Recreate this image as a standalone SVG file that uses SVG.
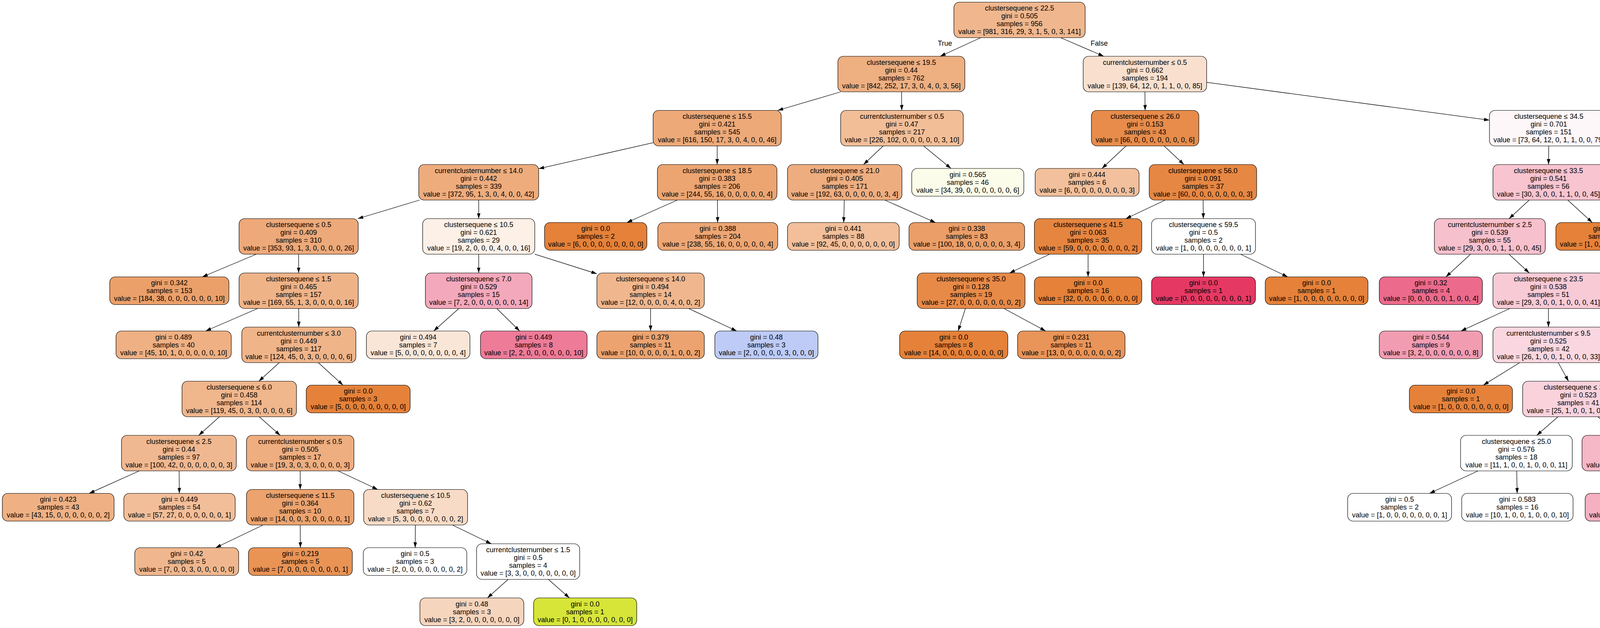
<svg xmlns="http://www.w3.org/2000/svg" width="7350" height="1607" viewBox="0 0 7350 1607">
<style>
.b{stroke:#000;stroke-width:1.2}
text{font-family:"Liberation Sans",Helvetica,Arial,sans-serif;font-size:18px;text-anchor:middle;fill:#000}
.e line{stroke:#000;stroke-width:1.3;fill:none;marker-end:url(#a)}
</style>
<defs><marker id="a" markerWidth="14" markerHeight="10" refX="14" refY="5" orient="auto" markerUnits="userSpaceOnUse"><path d="M0,0.5 L14,5 L0,9.5 z" fill="#000"/></marker></defs>
<rect width="7350" height="1607" fill="#fff"/>
<g id="edges" class="e">
<line x1="2510.6" y1="96.5" x2="2406.9" y2="144"/>
<line x1="2715.4" y1="96.5" x2="2825.6" y2="144"/>
<line x1="2152.6" y1="235" x2="1990.9" y2="282.5"/>
<line x1="2308" y1="235" x2="2308.5" y2="282.5"/>
<line x1="2931" y1="235" x2="2931.5" y2="282.5"/>
<line x1="3089" y1="210.7" x2="3813" y2="307.6"/>
<line x1="1672" y1="365.2" x2="1379" y2="431.7"/>
<line x1="1836" y1="373.5" x2="1836" y2="421"/>
<line x1="2260.9" y1="373.5" x2="2210.6" y2="421"/>
<line x1="2364.4" y1="373.5" x2="2434.5" y2="431"/>
<line x1="2882.7" y1="373.5" x2="2821.1" y2="431"/>
<line x1="2980.1" y1="373.5" x2="3030.9" y2="421"/>
<line x1="3964.7" y1="373.5" x2="3964.3" y2="421"/>
<line x1="4117" y1="355.9" x2="4569" y2="438.6"/>
<line x1="1074.1" y1="512" x2="915.9" y2="559.5"/>
<line x1="1225.5" y1="512" x2="1225.5" y2="559.5"/>
<line x1="1733.8" y1="512" x2="1604.7" y2="569.5"/>
<line x1="1836.5" y1="512" x2="1837.1" y2="569.5"/>
<line x1="2161.4" y1="512" x2="2159.9" y2="569.5"/>
<line x1="2265.2" y1="512" x2="2394.9" y2="569.5"/>
<line x1="2982.9" y1="512" x2="2882.1" y2="559.5"/>
<line x1="3080" y1="512" x2="3080.5" y2="559.5"/>
<line x1="3914.7" y1="512" x2="3863.3" y2="559.5"/>
<line x1="4013.6" y1="512" x2="4076.3" y2="569.5"/>
<line x1="4721" y1="512" x2="4721" y2="559.5"/>
<line x1="4873" y1="480.9" x2="6045" y2="591.5"/>
<line x1="656.2" y1="650.5" x2="518" y2="708.5"/>
<line x1="764.5" y1="650.5" x2="764.5" y2="698.5"/>
<line x1="1225.5" y1="650.5" x2="1225.5" y2="698.5"/>
<line x1="1369" y1="650.3" x2="1528" y2="700.6"/>
<line x1="2687.1" y1="650.5" x2="2584.4" y2="698.5"/>
<line x1="2785.5" y1="650.5" x2="2785.5" y2="708.5"/>
<line x1="3081" y1="650.5" x2="3081" y2="708.5"/>
<line x1="3175.8" y1="650.5" x2="3296.6" y2="708.5"/>
<line x1="3764.6" y1="650.5" x2="3701.6" y2="708.5"/>
<line x1="3863.1" y1="650.5" x2="3914.9" y2="698.5"/>
<line x1="4669.6" y1="650.5" x2="4615.4" y2="698.5"/>
<line x1="4771.6" y1="650.5" x2="4824.9" y2="698.5"/>
<line x1="6187.5" y1="650.5" x2="6187.5" y2="698.5"/>
<line x1="6330" y1="649.8" x2="6497" y2="702.2"/>
<line x1="659.4" y1="789.5" x2="526.5" y2="847"/>
<line x1="764.6" y1="789.5" x2="764.9" y2="837"/>
<line x1="1174.6" y1="789.5" x2="1110.2" y2="847"/>
<line x1="1271.8" y1="789.5" x2="1330.4" y2="847"/>
<line x1="1665.5" y1="789.5" x2="1665.5" y2="847"/>
<line x1="1762.9" y1="789.5" x2="1886" y2="847"/>
<line x1="2471.4" y1="789.5" x2="2452.9" y2="847"/>
<line x1="2570.3" y1="789.5" x2="2676.8" y2="847"/>
<line x1="3865.1" y1="789.5" x2="3740.1" y2="847"/>
<line x1="3964" y1="789.5" x2="3964" y2="837"/>
<line x1="4467.3" y1="789.5" x2="4345" y2="847"/>
<line x1="4565.8" y1="789.5" x2="4568.1" y2="847"/>
<line x1="4873.7" y1="789.5" x2="4871.8" y2="837"/>
<line x1="4972.6" y1="789.5" x2="5073.9" y2="837"/>
<line x1="6141.8" y1="789.5" x2="6094.2" y2="837"/>
<line x1="6237.3" y1="789.5" x2="6289.2" y2="837"/>
<line x1="6630" y1="789.5" x2="6630" y2="847"/>
<line x1="6725.4" y1="789.5" x2="6825.1" y2="837"/>
<line x1="714.9" y1="928" x2="662.6" y2="975.5"/>
<line x1="814.9" y1="928" x2="878" y2="985.5"/>
<line x1="3890.4" y1="928" x2="3797.4" y2="985.5"/>
<line x1="3989.1" y1="928" x2="4015.4" y2="975.5"/>
<line x1="4772.9" y1="928" x2="4650.2" y2="985.5"/>
<line x1="4870" y1="928" x2="4870" y2="975.5"/>
<line x1="5169.4" y1="928" x2="5167.3" y2="985.5"/>
<line x1="5266.4" y1="928" x2="5366.1" y2="975.5"/>
<line x1="5953.1" y1="928" x2="5832.5" y2="985.5"/>
<line x1="6048.5" y1="928" x2="6048.5" y2="985.5"/>
<line x1="6339" y1="928" x2="6339" y2="985.5"/>
<line x1="6434.6" y1="928" x2="6555.4" y2="985.5"/>
<line x1="6920.5" y1="928" x2="6920.5" y2="985.5"/>
<line x1="7015.6" y1="928" x2="7135.8" y2="985.5"/>
<line x1="561.7" y1="1066.5" x2="508.8" y2="1114"/>
<line x1="663.7" y1="1066.5" x2="717.3" y2="1114"/>
<line x1="3988.4" y1="1066.5" x2="3934.1" y2="1114"/>
<line x1="4090.6" y1="1066.5" x2="4142.9" y2="1114"/>
<line x1="4796.6" y1="1066.5" x2="4703.8" y2="1124"/>
<line x1="4894" y1="1066.5" x2="4919" y2="1114"/>
<line x1="5437.2" y1="1066.5" x2="5406.5" y2="1124"/>
<line x1="5534.3" y1="1066.5" x2="5626.2" y2="1124"/>
<line x1="356.5" y1="1205" x2="228.2" y2="1262.5"/>
<line x1="458.5" y1="1205" x2="459.1" y2="1262.5"/>
<line x1="768.5" y1="1205" x2="768.5" y2="1252.5"/>
<line x1="865.6" y1="1205" x2="966.9" y2="1252.5"/>
<line x1="3783.8" y1="1205" x2="3659.6" y2="1262.5"/>
<line x1="3882.8" y1="1205" x2="3883.9" y2="1262.5"/>
<line x1="4192" y1="1205" x2="4190.8" y2="1262.5"/>
<line x1="4290.9" y1="1205" x2="4414.6" y2="1262.5"/>
<line x1="4895.2" y1="1205" x2="4845.3" y2="1252.5"/>
<line x1="4990.5" y1="1205" x2="5050.5" y2="1262.5"/>
<line x1="673.4" y1="1343.5" x2="552.2" y2="1401.5"/>
<line x1="768.5" y1="1343.5" x2="769" y2="1401.5"/>
<line x1="1063.5" y1="1343.5" x2="1062.9" y2="1401.5"/>
<line x1="1158.3" y1="1343.5" x2="1257.7" y2="1391.5"/>
<line x1="4750" y1="1343.5" x2="4689.5" y2="1401.5"/>
<line x1="4845.1" y1="1343.5" x2="4905.8" y2="1401.5"/>
<line x1="1301" y1="1482.5" x2="1247.8" y2="1530"/>
<line x1="1403.7" y1="1482.5" x2="1457.7" y2="1530"/>
<text x="2419" y="117">True</text>
<text x="2814" y="117">False</text>
</g>
<g id="n0"><rect class="b" x="2442" y="5.5" width="336" height="91" rx="14" fill="#f0b78e"/><text x="2610" y="27">clustersequene ≤ 22.5<tspan x="2610" dy="20">gini = 0.505</tspan><tspan x="2610" dy="20">samples = 956</tspan><tspan x="2610" dy="20">value = [981, 316, 29, 3, 1, 5, 0, 3, 141]</tspan></text></g>
<g id="n1"><rect class="b" x="2145" y="144" width="325" height="91" rx="14" fill="#eeaf81"/><text x="2307.5" y="165.5">clustersequene ≤ 19.5<tspan x="2307.5" dy="20">gini = 0.44</tspan><tspan x="2307.5" dy="20">samples = 762</tspan><tspan x="2307.5" dy="20">value = [842, 252, 17, 3, 0, 4, 0, 3, 56]</tspan></text></g>
<g id="n2"><rect class="b" x="2773" y="144" width="316" height="91" rx="14" fill="#f9e0ce"/><text x="2931" y="165.5">currentclusternumber ≤ 0.5<tspan x="2931" dy="20">gini = 0.662</tspan><tspan x="2931" dy="20">samples = 194</tspan><tspan x="2931" dy="20">value = [139, 64, 12, 0, 1, 1, 0, 0, 85]</tspan></text></g>
<g id="n3"><rect class="b" x="1672" y="282.5" width="328" height="91" rx="14" fill="#eda978"/><text x="1836" y="304">clustersequene ≤ 15.5<tspan x="1836" dy="20">gini = 0.421</tspan><tspan x="1836" dy="20">samples = 545</tspan><tspan x="1836" dy="20">value = [616, 150, 17, 3, 0, 4, 0, 0, 46]</tspan></text></g>
<g id="n4"><rect class="b" x="2152" y="282.5" width="314" height="91" rx="14" fill="#f2be98"/><text x="2309" y="304">currentclusternumber ≤ 0.5<tspan x="2309" dy="20">gini = 0.47</tspan><tspan x="2309" dy="20">samples = 217</tspan><tspan x="2309" dy="20">value = [226, 102, 0, 0, 0, 0, 0, 3, 10]</tspan></text></g>
<g id="n5"><rect class="b" x="2794" y="282.5" width="275" height="91" rx="14" fill="#e78c4b"/><text x="2931.5" y="304">clustersequene ≤ 26.0<tspan x="2931.5" dy="20">gini = 0.153</tspan><tspan x="2931.5" dy="20">samples = 43</tspan><tspan x="2931.5" dy="20">value = [66, 0, 0, 0, 0, 0, 0, 0, 6]</tspan></text></g>
<g id="n6"><rect class="b" x="3813" y="282.5" width="304" height="91" rx="14" fill="#fef7f9"/><text x="3965" y="304">clustersequene ≤ 34.5<tspan x="3965" dy="20">gini = 0.701</tspan><tspan x="3965" dy="20">samples = 151</tspan><tspan x="3965" dy="20">value = [73, 64, 12, 0, 1, 1, 0, 0, 79]</tspan></text></g>
<g id="n7"><rect class="b" x="1072" y="421" width="307" height="91" rx="14" fill="#eeac7d"/><text x="1225.5" y="442.5">currentclusternumber ≤ 14.0<tspan x="1225.5" dy="20">gini = 0.442</tspan><tspan x="1225.5" dy="20">samples = 339</tspan><tspan x="1225.5" dy="20">value = [372, 95, 1, 3, 0, 4, 0, 0, 42]</tspan></text></g>
<g id="n8"><rect class="b" x="1683" y="421" width="306" height="91" rx="14" fill="#eca571"/><text x="1836" y="442.5">clustersequene ≤ 18.5<tspan x="1836" dy="20">gini = 0.383</tspan><tspan x="1836" dy="20">samples = 206</tspan><tspan x="1836" dy="20">value = [244, 55, 16, 0, 0, 0, 0, 0, 4]</tspan></text></g>
<g id="n9"><rect class="b" x="2016" y="421" width="293" height="91" rx="14" fill="#eead7f"/><text x="2162.5" y="442.5">clustersequene ≤ 21.0<tspan x="2162.5" dy="20">gini = 0.405</tspan><tspan x="2162.5" dy="20">samples = 171</tspan><tspan x="2162.5" dy="20">value = [192, 63, 0, 0, 0, 0, 0, 3, 4]</tspan></text></g>
<g id="n10"><rect class="b" x="2334" y="431" width="287" height="71" rx="14" fill="#fbfce9"/><text x="2477.5" y="452.5">gini = 0.565<tspan x="2477.5" dy="20">samples = 46</tspan><tspan x="2477.5" dy="20">value = [34, 39, 0, 0, 0, 0, 0, 0, 6]</tspan></text></g>
<g id="n11"><rect class="b" x="2650" y="431" width="266" height="71" rx="14" fill="#f2c09c"/><text x="2783" y="452.5">gini = 0.444<tspan x="2783" dy="20">samples = 6</tspan><tspan x="2783" dy="20">value = [6, 0, 0, 0, 0, 0, 0, 0, 3]</tspan></text></g>
<g id="n12"><rect class="b" x="2942" y="421" width="275" height="91" rx="14" fill="#e68743"/><text x="3079.5" y="442.5">clustersequene ≤ 56.0<tspan x="3079.5" dy="20">gini = 0.091</tspan><tspan x="3079.5" dy="20">samples = 37</tspan><tspan x="3079.5" dy="20">value = [60, 0, 0, 0, 0, 0, 0, 0, 3]</tspan></text></g>
<g id="n13"><rect class="b" x="3822" y="421" width="284" height="91" rx="14" fill="#f7c4d0"/><text x="3964" y="442.5">clustersequene ≤ 33.5<tspan x="3964" dy="20">gini = 0.541</tspan><tspan x="3964" dy="20">samples = 56</tspan><tspan x="3964" dy="20">value = [30, 3, 0, 0, 1, 1, 0, 0, 45]</tspan></text></g>
<g id="n14"><rect class="b" x="4569" y="421" width="304" height="91" rx="14" fill="#f8fbde"/><text x="4721" y="442.5">currentclusternumber ≤ 8.5<tspan x="4721" dy="20">gini = 0.695</tspan><tspan x="4721" dy="20">samples = 95</tspan><tspan x="4721" dy="20">value = [43, 61, 12, 0, 0, 0, 0, 0, 34]</tspan></text></g>
<g id="n15"><rect class="b" x="612" y="559.5" width="305" height="91" rx="14" fill="#eda979"/><text x="764.5" y="581">clustersequene ≤ 0.5<tspan x="764.5" dy="20">gini = 0.409</tspan><tspan x="764.5" dy="20">samples = 310</tspan><tspan x="764.5" dy="20">value = [353, 93, 1, 3, 0, 0, 0, 0, 26]</tspan></text></g>
<g id="n16"><rect class="b" x="1082" y="559.5" width="287" height="91" rx="14" fill="#fcf0e7"/><text x="1225.5" y="581">clustersequene ≤ 10.5<tspan x="1225.5" dy="20">gini = 0.621</tspan><tspan x="1225.5" dy="20">samples = 29</tspan><tspan x="1225.5" dy="20">value = [19, 2, 0, 0, 0, 4, 0, 0, 16]</tspan></text></g>
<g id="n17"><rect class="b" x="1394" y="569.5" width="262" height="71" rx="14" fill="#e58139"/><text x="1525" y="591">gini = 0.0<tspan x="1525" dy="20">samples = 2</tspan><tspan x="1525" dy="20">value = [6, 0, 0, 0, 0, 0, 0, 0, 0]</tspan></text></g>
<g id="n18"><rect class="b" x="1684" y="569.5" width="307" height="71" rx="14" fill="#eda673"/><text x="1837.5" y="591">gini = 0.388<tspan x="1837.5" dy="20">samples = 204</tspan><tspan x="1837.5" dy="20">value = [238, 55, 16, 0, 0, 0, 0, 0, 4]</tspan></text></g>
<g id="n19"><rect class="b" x="2016" y="569.5" width="286" height="71" rx="14" fill="#f2bf9a"/><text x="2159" y="591">gini = 0.441<tspan x="2159" dy="20">samples = 88</tspan><tspan x="2159" dy="20">value = [92, 45, 0, 0, 0, 0, 0, 0, 0]</tspan></text></g>
<g id="n20"><rect class="b" x="2327" y="569.5" width="296" height="71" rx="14" fill="#eb9e67"/><text x="2475" y="591">gini = 0.338<tspan x="2475" dy="20">samples = 83</tspan><tspan x="2475" dy="20">value = [100, 18, 0, 0, 0, 0, 0, 3, 4]</tspan></text></g>
<g id="n21"><rect class="b" x="2648" y="559.5" width="275" height="91" rx="14" fill="#e68540"/><text x="2785.5" y="581">clustersequene ≤ 41.5<tspan x="2785.5" dy="20">gini = 0.063</tspan><tspan x="2785.5" dy="20">samples = 35</tspan><tspan x="2785.5" dy="20">value = [59, 0, 0, 0, 0, 0, 0, 0, 2]</tspan></text></g>
<g id="n22"><rect class="b" x="2948" y="559.5" width="266" height="91" rx="14" fill="#ffffff"/><text x="3081" y="581">clustersequene ≤ 59.5<tspan x="3081" dy="20">gini = 0.5</tspan><tspan x="3081" dy="20">samples = 2</tspan><tspan x="3081" dy="20">value = [1, 0, 0, 0, 0, 0, 0, 0, 1]</tspan></text></g>
<g id="n23"><rect class="b" x="3672" y="559.5" width="284" height="91" rx="14" fill="#f7c0cd"/><text x="3814" y="581">currentclusternumber ≤ 2.5<tspan x="3814" dy="20">gini = 0.539</tspan><tspan x="3814" dy="20">samples = 55</tspan><tspan x="3814" dy="20">value = [29, 3, 0, 0, 1, 1, 0, 0, 45]</tspan></text></g>
<g id="n24"><rect class="b" x="3983" y="569.5" width="264" height="71" rx="14" fill="#e58139"/><text x="4115" y="591">gini = 0.0<tspan x="4115" dy="20">samples = 1</tspan><tspan x="4115" dy="20">value = [1, 0, 0, 0, 0, 0, 0, 0, 0]</tspan></text></g>
<g id="n25"><rect class="b" x="4569" y="559.5" width="304" height="91" rx="14" fill="#eef4ab"/><text x="4721" y="581">clustersequene ≤ 39.5<tspan x="4721" dy="20">gini = 0.637</tspan><tspan x="4721" dy="20">samples = 68</tspan><tspan x="4721" dy="20">value = [21, 58, 12, 0, 0, 0, 0, 0, 17]</tspan></text></g>
<g id="n26"><rect class="b" x="6045" y="559.5" width="285" height="91" rx="14" fill="#fae6d7"/><text x="6187.5" y="581">clustersequene ≤ 56.5<tspan x="6187.5" dy="20">gini = 0.557</tspan><tspan x="6187.5" dy="20">samples = 27</tspan><tspan x="6187.5" dy="20">value = [22, 3, 0, 0, 0, 0, 0, 0, 17]</tspan></text></g>
<g id="n27"><rect class="b" x="281" y="708.5" width="305" height="71" rx="14" fill="#eba06a"/><text x="433.5" y="730">gini = 0.342<tspan x="433.5" dy="20">samples = 153</tspan><tspan x="433.5" dy="20">value = [184, 38, 0, 0, 0, 0, 0, 0, 10]</tspan></text></g>
<g id="n28"><rect class="b" x="612" y="698.5" width="305" height="91" rx="14" fill="#efb388"/><text x="764.5" y="720">clustersequene ≤ 1.5<tspan x="764.5" dy="20">gini = 0.465</tspan><tspan x="764.5" dy="20">samples = 157</tspan><tspan x="764.5" dy="20">value = [169, 55, 1, 3, 0, 0, 0, 0, 16]</tspan></text></g>
<g id="n29"><rect class="b" x="1089" y="698.5" width="273" height="91" rx="14" fill="#f4a8bb"/><text x="1225.5" y="720">clustersequene ≤ 7.0<tspan x="1225.5" dy="20">gini = 0.529</tspan><tspan x="1225.5" dy="20">samples = 15</tspan><tspan x="1225.5" dy="20">value = [7, 2, 0, 0, 0, 0, 0, 0, 14]</tspan></text></g>
<g id="n30"><rect class="b" x="1528" y="698.5" width="275" height="91" rx="14" fill="#f0b78e"/><text x="1665.5" y="720">clustersequene ≤ 14.0<tspan x="1665.5" dy="20">gini = 0.494</tspan><tspan x="1665.5" dy="20">samples = 14</tspan><tspan x="1665.5" dy="20">value = [12, 0, 0, 0, 0, 4, 0, 0, 2]</tspan></text></g>
<g id="n31"><rect class="b" x="2348" y="698.5" width="276" height="91" rx="14" fill="#e78a48"/><text x="2486" y="720">clustersequene ≤ 35.0<tspan x="2486" dy="20">gini = 0.128</tspan><tspan x="2486" dy="20">samples = 19</tspan><tspan x="2486" dy="20">value = [27, 0, 0, 0, 0, 0, 0, 0, 2]</tspan></text></g>
<g id="n32"><rect class="b" x="2648" y="708.5" width="275" height="71" rx="14" fill="#e58139"/><text x="2785.5" y="730">gini = 0.0<tspan x="2785.5" dy="20">samples = 16</tspan><tspan x="2785.5" dy="20">value = [32, 0, 0, 0, 0, 0, 0, 0, 0]</tspan></text></g>
<g id="n33"><rect class="b" x="2948" y="708.5" width="266" height="71" rx="14" fill="#e53964"/><text x="3081" y="730">gini = 0.0<tspan x="3081" dy="20">samples = 1</tspan><tspan x="3081" dy="20">value = [0, 0, 0, 0, 0, 0, 0, 0, 1]</tspan></text></g>
<g id="n34"><rect class="b" x="3239" y="708.5" width="263" height="71" rx="14" fill="#e58139"/><text x="3370.5" y="730">gini = 0.0<tspan x="3370.5" dy="20">samples = 1</tspan><tspan x="3370.5" dy="20">value = [1, 0, 0, 0, 0, 0, 0, 0, 0]</tspan></text></g>
<g id="n35"><rect class="b" x="3531" y="708.5" width="264" height="71" rx="14" fill="#ec6a8b"/><text x="3663" y="730">gini = 0.32<tspan x="3663" dy="20">samples = 4</tspan><tspan x="3663" dy="20">value = [0, 0, 0, 0, 0, 1, 0, 0, 4]</tspan></text></g>
<g id="n36"><rect class="b" x="3822" y="698.5" width="284" height="91" rx="14" fill="#f8cad6"/><text x="3964" y="720">clustersequene ≤ 23.5<tspan x="3964" dy="20">gini = 0.538</tspan><tspan x="3964" dy="20">samples = 51</tspan><tspan x="3964" dy="20">value = [29, 3, 0, 0, 1, 0, 0, 0, 41]</tspan></text></g>
<g id="n37"><rect class="b" x="4422" y="698.5" width="284" height="91" rx="14" fill="#f7fad9"/><text x="4564" y="720">clustersequene ≤ 36.5<tspan x="4564" dy="20">gini = 0.689</tspan><tspan x="4564" dy="20">samples = 25</tspan><tspan x="4564" dy="20">value = [13, 19, 6, 0, 0, 0, 0, 0, 6]</tspan></text></g>
<g id="n38"><rect class="b" x="4732" y="698.5" width="287" height="91" rx="14" fill="#eaf196"/><text x="4875.5" y="720">currentclusternumber ≤ 1.5<tspan x="4875.5" dy="20">gini = 0.575</tspan><tspan x="4875.5" dy="20">samples = 43</tspan><tspan x="4875.5" dy="20">value = [8, 39, 6, 0, 0, 0, 0, 0, 11]</tspan></text></g>
<g id="n39"><rect class="b" x="6045" y="698.5" width="285" height="91" rx="14" fill="#fdf2f5"/><text x="6187.5" y="720">clustersequene ≤ 42.5<tspan x="6187.5" dy="20">gini = 0.533</tspan><tspan x="6187.5" dy="20">samples = 18</tspan><tspan x="6187.5" dy="20">value = [13, 1, 0, 0, 0, 0, 0, 0, 14]</tspan></text></g>
<g id="n40"><rect class="b" x="6497" y="698.5" width="266" height="91" rx="14" fill="#f1ba93"/><text x="6630" y="720">clustersequene ≤ 60.0<tspan x="6630" dy="20">gini = 0.52</tspan><tspan x="6630" dy="20">samples = 9</tspan><tspan x="6630" dy="20">value = [9, 2, 0, 0, 0, 0, 0, 0, 3]</tspan></text></g>
<g id="n41"><rect class="b" x="297" y="847" width="295" height="71" rx="14" fill="#efb083"/><text x="444.5" y="868.5">gini = 0.489<tspan x="444.5" dy="20">samples = 40</tspan><tspan x="444.5" dy="20">value = [45, 10, 1, 0, 0, 0, 0, 0, 10]</tspan></text></g>
<g id="n42"><rect class="b" x="619" y="837" width="292" height="91" rx="14" fill="#f0b489"/><text x="765" y="858.5">currentclusternumber ≤ 3.0<tspan x="765" dy="20">gini = 0.449</tspan><tspan x="765" dy="20">samples = 117</tspan><tspan x="765" dy="20">value = [124, 45, 0, 3, 0, 0, 0, 0, 6]</tspan></text></g>
<g id="n43"><rect class="b" x="938" y="847" width="265" height="71" rx="14" fill="#fae6d7"/><text x="1070.5" y="868.5">gini = 0.494<tspan x="1070.5" dy="20">samples = 7</tspan><tspan x="1070.5" dy="20">value = [5, 0, 0, 0, 0, 0, 0, 0, 4]</tspan></text></g>
<g id="n44"><rect class="b" x="1230" y="847" width="273" height="71" rx="14" fill="#ee7b98"/><text x="1366.5" y="868.5">gini = 0.449<tspan x="1366.5" dy="20">samples = 8</tspan><tspan x="1366.5" dy="20">value = [2, 2, 0, 0, 0, 0, 0, 0, 10]</tspan></text></g>
<g id="n45"><rect class="b" x="1528" y="847" width="275" height="71" rx="14" fill="#eca36f"/><text x="1665.5" y="868.5">gini = 0.379<tspan x="1665.5" dy="20">samples = 11</tspan><tspan x="1665.5" dy="20">value = [10, 0, 0, 0, 0, 1, 0, 0, 2]</tspan></text></g>
<g id="n46"><rect class="b" x="1830" y="847" width="264" height="71" rx="14" fill="#bdcbf6"/><text x="1962" y="868.5">gini = 0.48<tspan x="1962" dy="20">samples = 3</tspan><tspan x="1962" dy="20">value = [2, 0, 0, 0, 0, 3, 0, 0, 0]</tspan></text></g>
<g id="n47"><rect class="b" x="2303" y="847" width="277" height="71" rx="14" fill="#e58139"/><text x="2441.5" y="868.5">gini = 0.0<tspan x="2441.5" dy="20">samples = 8</tspan><tspan x="2441.5" dy="20">value = [14, 0, 0, 0, 0, 0, 0, 0, 0]</tspan></text></g>
<g id="n48"><rect class="b" x="2605" y="847" width="275" height="71" rx="14" fill="#e99458"/><text x="2742.5" y="868.5">gini = 0.231<tspan x="2742.5" dy="20">samples = 11</tspan><tspan x="2742.5" dy="20">value = [13, 0, 0, 0, 0, 0, 0, 0, 2]</tspan></text></g>
<g id="n49"><rect class="b" x="3531" y="847" width="264" height="71" rx="14" fill="#f29cb2"/><text x="3663" y="868.5">gini = 0.544<tspan x="3663" dy="20">samples = 9</tspan><tspan x="3663" dy="20">value = [3, 2, 0, 0, 0, 0, 0, 0, 8]</tspan></text></g>
<g id="n50"><rect class="b" x="3822" y="837" width="284" height="91" rx="14" fill="#fad7e0"/><text x="3964" y="858.5">currentclusternumber ≤ 9.5<tspan x="3964" dy="20">gini = 0.525</tspan><tspan x="3964" dy="20">samples = 42</tspan><tspan x="3964" dy="20">value = [26, 1, 0, 0, 1, 0, 0, 0, 33]</tspan></text></g>
<g id="n51"><rect class="b" x="4133" y="847" width="273" height="71" rx="14" fill="#e4ee7b"/><text x="4269.5" y="868.5">gini = 0.418<tspan x="4269.5" dy="20">samples = 9</tspan><tspan x="4269.5" dy="20">value = [3, 11, 0, 0, 0, 0, 0, 0, 1]</tspan></text></g>
<g id="n52"><rect class="b" x="4433" y="847" width="273" height="71" rx="14" fill="#fdf3ec"/><text x="4569.5" y="868.5">gini = 0.732<tspan x="4569.5" dy="20">samples = 16</tspan><tspan x="4569.5" dy="20">value = [10, 8, 6, 0, 0, 0, 0, 0, 5]</tspan></text></g>
<g id="n53"><rect class="b" x="4732" y="837" width="276" height="91" rx="14" fill="#f5f8cc"/><text x="4870" y="858.5">clustersequene ≤ 52.5<tspan x="4870" dy="20">gini = 0.704</tspan><tspan x="4870" dy="20">samples = 25</tspan><tspan x="4870" dy="20">value = [7, 15, 5, 0, 0, 0, 0, 0, 8]</tspan></text></g>
<g id="n54"><rect class="b" x="5034" y="837" width="274" height="91" rx="14" fill="#dfea5f"/><text x="5171" y="858.5">clustersequene ≤ 46.0<tspan x="5171" dy="20">gini = 0.302</tspan><tspan x="5171" dy="20">samples = 18</tspan><tspan x="5171" dy="20">value = [1, 24, 1, 0, 0, 0, 0, 0, 3]</tspan></text></g>
<g id="n55"><rect class="b" x="5916" y="837" width="265" height="91" rx="14" fill="#f5d0b5"/><text x="6048.5" y="858.5">clustersequene ≤ 41.0<tspan x="6048.5" dy="20">gini = 0.473</tspan><tspan x="6048.5" dy="20">samples = 9</tspan><tspan x="6048.5" dy="20">value = [8, 0, 0, 0, 0, 0, 0, 0, 5]</tspan></text></g>
<g id="n56"><rect class="b" x="6206" y="837" width="266" height="91" rx="14" fill="#f5b0c1"/><text x="6339" y="858.5">clustersequene ≤ 49.5<tspan x="6339" dy="20">gini = 0.524</tspan><tspan x="6339" dy="20">samples = 9</tspan><tspan x="6339" dy="20">value = [5, 1, 0, 0, 0, 0, 0, 0, 9]</tspan></text></g>
<g id="n57"><rect class="b" x="6497" y="847" width="266" height="71" rx="14" fill="#eca06a"/><text x="6630" y="868.5">gini = 0.32<tspan x="6630" dy="20">samples = 6</tspan><tspan x="6630" dy="20">value = [8, 2, 0, 0, 0, 0, 0, 0, 0]</tspan></text></g>
<g id="n58"><rect class="b" x="6788" y="837" width="265" height="91" rx="14" fill="#ee7b98"/><text x="6920.5" y="858.5">clustersequene ≤ 64.0<tspan x="6920.5" dy="20">gini = 0.375</tspan><tspan x="6920.5" dy="20">samples = 3</tspan><tspan x="6920.5" dy="20">value = [1, 0, 0, 0, 0, 0, 0, 0, 3]</tspan></text></g>
<g id="n59"><rect class="b" x="466" y="975.5" width="293" height="91" rx="14" fill="#f0b68c"/><text x="612.5" y="997">clustersequene ≤ 6.0<tspan x="612.5" dy="20">gini = 0.458</tspan><tspan x="612.5" dy="20">samples = 114</tspan><tspan x="612.5" dy="20">value = [119, 45, 0, 3, 0, 0, 0, 0, 6]</tspan></text></g>
<g id="n60"><rect class="b" x="784" y="985.5" width="266" height="71" rx="14" fill="#e58139"/><text x="917" y="1007">gini = 0.0<tspan x="917" dy="20">samples = 3</tspan><tspan x="917" dy="20">value = [5, 0, 0, 0, 0, 0, 0, 0, 0]</tspan></text></g>
<g id="n61"><rect class="b" x="3608" y="985.5" width="264" height="71" rx="14" fill="#e58139"/><text x="3740" y="1007">gini = 0.0<tspan x="3740" dy="20">samples = 1</tspan><tspan x="3740" dy="20">value = [1, 0, 0, 0, 0, 0, 0, 0, 0]</tspan></text></g>
<g id="n62"><rect class="b" x="3898" y="975.5" width="285" height="91" rx="14" fill="#f9d2dc"/><text x="4040.5" y="997">clustersequene ≤ 27.0<tspan x="4040.5" dy="20">gini = 0.523</tspan><tspan x="4040.5" dy="20">samples = 41</tspan><tspan x="4040.5" dy="20">value = [25, 1, 0, 0, 1, 0, 0, 0, 33]</tspan></text></g>
<g id="n63"><rect class="b" x="4442" y="985.5" width="265" height="71" rx="14" fill="#f2c09c"/><text x="4574.5" y="1007">gini = 0.444<tspan x="4574.5" dy="20">samples = 2</tspan><tspan x="4574.5" dy="20">value = [2, 1, 0, 0, 0, 0, 0, 0, 0]</tspan></text></g>
<g id="n64"><rect class="b" x="4732" y="975.5" width="276" height="91" rx="14" fill="#f5f8ce"/><text x="4870" y="997">clustersequene ≤ 54.0<tspan x="4870" dy="20">gini = 0.697</tspan><tspan x="4870" dy="20">samples = 23</tspan><tspan x="4870" dy="20">value = [5, 14, 5, 0, 0, 0, 0, 0, 8]</tspan></text></g>
<g id="n65"><rect class="b" x="5034" y="985.5" width="264" height="71" rx="14" fill="#e4ee7b"/><text x="5166" y="1007">gini = 0.375<tspan x="5166" dy="20">samples = 3</tspan><tspan x="5166" dy="20">value = [1, 3, 0, 0, 0, 0, 0, 0, 0]</tspan></text></g>
<g id="n66"><rect class="b" x="5325" y="975.5" width="273" height="91" rx="14" fill="#deea5d"/><text x="5461.5" y="997">clustersequene ≤ 55.5<tspan x="5461.5" dy="20">gini = 0.278</tspan><tspan x="5461.5" dy="20">samples = 15</tspan><tspan x="5461.5" dy="20">value = [0, 21, 1, 0, 0, 0, 0, 0, 3]</tspan></text></g>
<g id="n67"><rect class="b" x="5625" y="985.5" width="266" height="71" rx="14" fill="#f8dbc6"/><text x="5758" y="1007">gini = 0.486<tspan x="5758" dy="20">samples = 8</tspan><tspan x="5758" dy="20">value = [7, 0, 0, 0, 0, 0, 0, 0, 5]</tspan></text></g>
<g id="n68"><rect class="b" x="5916" y="985.5" width="265" height="71" rx="14" fill="#e58139"/><text x="6048.5" y="1007">gini = 0.0<tspan x="6048.5" dy="20">samples = 1</tspan><tspan x="6048.5" dy="20">value = [1, 0, 0, 0, 0, 0, 0, 0, 0]</tspan></text></g>
<g id="n69"><rect class="b" x="6206" y="985.5" width="266" height="71" rx="14" fill="#f6bdcb"/><text x="6339" y="1007">gini = 0.541<tspan x="6339" dy="20">samples = 8</tspan><tspan x="6339" dy="20">value = [5, 1, 0, 0, 0, 0, 0, 0, 8]</tspan></text></g>
<g id="n70"><rect class="b" x="6497" y="985.5" width="266" height="71" rx="14" fill="#e53964"/><text x="6630" y="1007">gini = 0.0<tspan x="6630" dy="20">samples = 1</tspan><tspan x="6630" dy="20">value = [0, 0, 0, 0, 0, 0, 0, 0, 1]</tspan></text></g>
<g id="n71"><rect class="b" x="6788" y="985.5" width="265" height="71" rx="14" fill="#e53964"/><text x="6920.5" y="1007">gini = 0.0<tspan x="6920.5" dy="20">samples = 1</tspan><tspan x="6920.5" dy="20">value = [0, 0, 0, 0, 0, 0, 0, 0, 1]</tspan></text></g>
<g id="n72"><rect class="b" x="7078" y="985.5" width="264" height="71" rx="14" fill="#f29cb2"/><text x="7210" y="1007">gini = 0.444<tspan x="7210" dy="20">samples = 2</tspan><tspan x="7210" dy="20">value = [1, 0, 0, 0, 0, 0, 0, 0, 2]</tspan></text></g>
<g id="n73"><rect class="b" x="311" y="1114" width="294" height="91" rx="14" fill="#f0b890"/><text x="458" y="1135.5">clustersequene ≤ 2.5<tspan x="458" dy="20">gini = 0.44</tspan><tspan x="458" dy="20">samples = 97</tspan><tspan x="458" dy="20">value = [100, 42, 0, 0, 0, 0, 0, 0, 3]</tspan></text></g>
<g id="n74"><rect class="b" x="631" y="1114" width="275" height="91" rx="14" fill="#eeae80"/><text x="768.5" y="1135.5">currentclusternumber ≤ 0.5<tspan x="768.5" dy="20">gini = 0.505</tspan><tspan x="768.5" dy="20">samples = 17</tspan><tspan x="768.5" dy="20">value = [19, 3, 0, 3, 0, 0, 0, 0, 3]</tspan></text></g>
<g id="n75"><rect class="b" x="3739" y="1114" width="286" height="91" rx="14" fill="#ffffff"/><text x="3882" y="1135.5">clustersequene ≤ 25.0<tspan x="3882" dy="20">gini = 0.576</tspan><tspan x="3882" dy="20">samples = 18</tspan><tspan x="3882" dy="20">value = [11, 1, 0, 0, 1, 0, 0, 0, 11]</tspan></text></g>
<g id="n76"><rect class="b" x="4050" y="1114" width="286" height="91" rx="14" fill="#f6b7c7"/><text x="4193" y="1135.5">clustersequene ≤ 30.5<tspan x="4193" dy="20">gini = 0.475</tspan><tspan x="4193" dy="20">samples = 23</tspan><tspan x="4193" dy="20">value = [14, 0, 0, 0, 0, 0, 0, 0, 22]</tspan></text></g>
<g id="n77"><rect class="b" x="4509" y="1124" width="275" height="71" rx="14" fill="#f4f8c6"/><text x="4646.5" y="1145.5">gini = 0.635<tspan x="4646.5" dy="20">samples = 13</tspan><tspan x="4646.5" dy="20">value = [1, 10, 3, 0, 0, 0, 0, 0, 6]</tspan></text></g>
<g id="n78"><rect class="b" x="4810" y="1114" width="266" height="91" rx="14" fill="#ffffff"/><text x="4943" y="1135.5">clustersequene ≤ 63.0<tspan x="4943" dy="20">gini = 0.722</tspan><tspan x="4943" dy="20">samples = 10</tspan><tspan x="4943" dy="20">value = [4, 4, 2, 0, 0, 0, 0, 0, 2]</tspan></text></g>
<g id="n79"><rect class="b" x="5250" y="1124" width="275" height="71" rx="14" fill="#e0eb65"/><text x="5387.5" y="1145.5">gini = 0.322<tspan x="5387.5" dy="20">samples = 13</tspan><tspan x="5387.5" dy="20">value = [0, 17, 1, 0, 0, 0, 0, 0, 3]</tspan></text></g>
<g id="n80"><rect class="b" x="5550" y="1124" width="266" height="71" rx="14" fill="#d7e539"/><text x="5683" y="1145.5">gini = 0.0<tspan x="5683" dy="20">samples = 2</tspan><tspan x="5683" dy="20">value = [0, 4, 0, 0, 0, 0, 0, 0, 0]</tspan></text></g>
<g id="n81"><rect class="b" x="6" y="1262.5" width="286" height="71" rx="14" fill="#efb184"/><text x="149" y="1284">gini = 0.423<tspan x="149" dy="20">samples = 43</tspan><tspan x="149" dy="20">value = [43, 15, 0, 0, 0, 0, 0, 0, 2]</tspan></text></g>
<g id="n82"><rect class="b" x="317" y="1262.5" width="285" height="71" rx="14" fill="#f2be99"/><text x="459.5" y="1284">gini = 0.449<tspan x="459.5" dy="20">samples = 54</tspan><tspan x="459.5" dy="20">value = [57, 27, 0, 0, 0, 0, 0, 0, 1]</tspan></text></g>
<g id="n83"><rect class="b" x="631" y="1252.5" width="275" height="91" rx="14" fill="#eca36e"/><text x="768.5" y="1274">clustersequene ≤ 11.5<tspan x="768.5" dy="20">gini = 0.364</tspan><tspan x="768.5" dy="20">samples = 10</tspan><tspan x="768.5" dy="20">value = [14, 0, 0, 3, 0, 0, 0, 0, 1]</tspan></text></g>
<g id="n84"><rect class="b" x="931" y="1252.5" width="266" height="91" rx="14" fill="#f8dbc6"/><text x="1064" y="1274">clustersequene ≤ 10.5<tspan x="1064" dy="20">gini = 0.62</tspan><tspan x="1064" dy="20">samples = 7</tspan><tspan x="1064" dy="20">value = [5, 3, 0, 0, 0, 0, 0, 0, 2]</tspan></text></g>
<g id="n85"><rect class="b" x="3450" y="1262.5" width="266" height="71" rx="14" fill="#ffffff"/><text x="3583" y="1284">gini = 0.5<tspan x="3583" dy="20">samples = 2</tspan><tspan x="3583" dy="20">value = [1, 0, 0, 0, 0, 0, 0, 0, 1]</tspan></text></g>
<g id="n86"><rect class="b" x="3742" y="1262.5" width="285" height="71" rx="14" fill="#ffffff"/><text x="3884.5" y="1284">gini = 0.583<tspan x="3884.5" dy="20">samples = 16</tspan><tspan x="3884.5" dy="20">value = [10, 1, 0, 0, 1, 0, 0, 0, 10]</tspan></text></g>
<g id="n87"><rect class="b" x="4058" y="1262.5" width="264" height="71" rx="14" fill="#f5b0c1"/><text x="4190" y="1284">gini = 0.469<tspan x="4190" dy="20">samples = 5</tspan><tspan x="4190" dy="20">value = [3, 0, 0, 0, 0, 0, 0, 0, 5]</tspan></text></g>
<g id="n88"><rect class="b" x="4348" y="1262.5" width="286" height="71" rx="14" fill="#f6b9c8"/><text x="4491" y="1284">gini = 0.477<tspan x="4491" dy="20">samples = 18</tspan><tspan x="4491" dy="20">value = [11, 0, 0, 0, 0, 0, 0, 0, 17]</tspan></text></g>
<g id="n89"><rect class="b" x="4664" y="1252.5" width="267" height="91" rx="14" fill="#ffffff"/><text x="4797.5" y="1274">clustersequene ≤ 58.5<tspan x="4797.5" dy="20">gini = 0.694</tspan><tspan x="4797.5" dy="20">samples = 9</tspan><tspan x="4797.5" dy="20">value = [4, 4, 2, 0, 0, 0, 0, 0, 1]</tspan></text></g>
<g id="n90"><rect class="b" x="4955" y="1262.5" width="265" height="71" rx="14" fill="#e53964"/><text x="5087.5" y="1284">gini = 0.0<tspan x="5087.5" dy="20">samples = 1</tspan><tspan x="5087.5" dy="20">value = [0, 0, 0, 0, 0, 0, 0, 0, 1]</tspan></text></g>
<g id="n91"><rect class="b" x="345" y="1401.5" width="266" height="71" rx="14" fill="#f0b78e"/><text x="478" y="1423">gini = 0.42<tspan x="478" dy="20">samples = 5</tspan><tspan x="478" dy="20">value = [7, 0, 0, 3, 0, 0, 0, 0, 0]</tspan></text></g>
<g id="n92"><rect class="b" x="636" y="1401.5" width="266" height="71" rx="14" fill="#e99355"/><text x="769" y="1423">gini = 0.219<tspan x="769" dy="20">samples = 5</tspan><tspan x="769" dy="20">value = [7, 0, 0, 0, 0, 0, 0, 0, 1]</tspan></text></g>
<g id="n93"><rect class="b" x="930" y="1401.5" width="265" height="71" rx="14" fill="#ffffff"/><text x="1062.5" y="1423">gini = 0.5<tspan x="1062.5" dy="20">samples = 3</tspan><tspan x="1062.5" dy="20">value = [2, 0, 0, 0, 0, 0, 0, 0, 2]</tspan></text></g>
<g id="n94"><rect class="b" x="1220" y="1391.5" width="264" height="91" rx="14" fill="#ffffff"/><text x="1352" y="1413">currentclusternumber ≤ 1.5<tspan x="1352" dy="20">gini = 0.5</tspan><tspan x="1352" dy="20">samples = 4</tspan><tspan x="1352" dy="20">value = [3, 3, 0, 0, 0, 0, 0, 0, 0]</tspan></text></g>
<g id="n95"><rect class="b" x="4520" y="1401.5" width="265" height="71" rx="14" fill="#e58139"/><text x="4652.5" y="1423">gini = 0.0<tspan x="4652.5" dy="20">samples = 1</tspan><tspan x="4652.5" dy="20">value = [1, 0, 0, 0, 0, 0, 0, 0, 0]</tspan></text></g>
<g id="n96"><rect class="b" x="4810" y="1401.5" width="266" height="71" rx="14" fill="#f9fbe3"/><text x="4943" y="1423">gini = 0.7<tspan x="4943" dy="20">samples = 8</tspan><tspan x="4943" dy="20">value = [3, 4, 2, 0, 0, 0, 0, 0, 1]</tspan></text></g>
<g id="n97"><rect class="b" x="1075" y="1530" width="266" height="71" rx="14" fill="#f6d5bd"/><text x="1208" y="1551.5">gini = 0.48<tspan x="1208" dy="20">samples = 3</tspan><tspan x="1208" dy="20">value = [3, 2, 0, 0, 0, 0, 0, 0, 0]</tspan></text></g>
<g id="n98"><rect class="b" x="1366" y="1530" width="264" height="71" rx="14" fill="#d7e539"/><text x="1498" y="1551.5">gini = 0.0<tspan x="1498" dy="20">samples = 1</tspan><tspan x="1498" dy="20">value = [0, 1, 0, 0, 0, 0, 0, 0, 0]</tspan></text></g>
</svg>
